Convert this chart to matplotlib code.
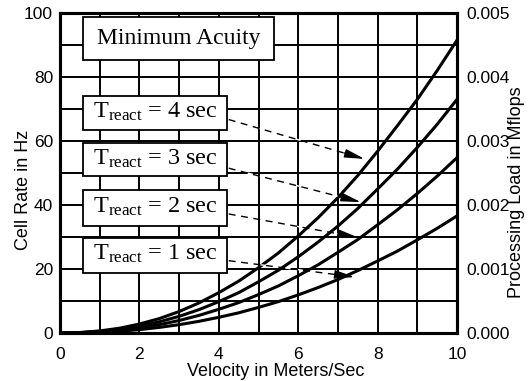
import matplotlib
matplotlib.use('Agg')
import matplotlib.pyplot as plt
from matplotlib.patches import Rectangle
from matplotlib.ticker import MultipleLocator, FormatStrFormatter

plt.rcParams['font.family'] = ['Liberation Sans', 'DejaVu Sans']
plt.rcParams['mathtext.fontset'] = 'custom'
plt.rcParams['mathtext.rm'] = 'Liberation Serif'
plt.rcParams['mathtext.it'] = 'Liberation Serif:italic'

# velocity (m/s) and cell rate (Hz), one list per reaction time
velocity = [0, 0.5, 1, 1.5, 2, 2.5, 3, 3.5, 4, 4.5, 5,
            5.5, 6, 6.5, 7, 7.5, 8, 8.5, 9, 9.5, 10]
rate_t4 = [0, 0.15, 0.65, 1.5, 2.8, 4.5, 6.7, 9.4, 12.6, 16.2, 20.4,
           25.0, 30.3, 36.0, 42.3, 49.2, 56.8, 64.8, 73.0, 82.0, 91.5]
rate_t3 = [0, 0.1, 0.5, 1.1, 2.1, 3.5, 5.2, 7.3, 9.8, 12.6, 16.0,
           19.6, 23.8, 28.4, 33.4, 38.9, 45.0, 51.2, 58.0, 65.2, 73.0]
rate_t2 = [0, 0.08, 0.38, 0.85, 1.6, 2.6, 3.9, 5.5, 7.4, 9.5, 12.0,
           14.7, 17.9, 21.3, 25.2, 29.2, 33.8, 38.5, 43.6, 49.0, 54.8]
rate_t1 = [0, 0.05, 0.25, 0.55, 1.05, 1.75, 2.6, 3.65, 4.9, 6.3, 8.0,
           9.8, 11.9, 14.2, 16.7, 19.5, 22.5, 25.6, 29.1, 32.7, 36.6]

t_react = [4, 3, 2, 1]
x_ticks = [0, 2, 4, 6, 8, 10]
y_ticks = [0, 20, 40, 60, 80, 100]
load_ticks = [0.000, 0.001, 0.002, 0.003, 0.004, 0.005]

# label boxes (x0, y0, x1, y1) and arrows (start, tip) in data units
boxes = [(0.58, 63.3, 4.2, 74.2), (0.58, 49.0, 4.2, 59.3),
         (0.58, 33.5, 4.2, 44.6), (0.58, 18.9, 4.2, 29.8)]
arrows = [((4.25, 66.7), (7.67, 54.4)), ((4.25, 51.5), (7.58, 40.9)),
          ((4.25, 37.2), (7.50, 29.9)), ((4.25, 22.6), (7.42, 17.5))]

fig = plt.figure(figsize=(5.31, 3.81), dpi=100)
ax = fig.add_axes([60 / 531, 48 / 381, 397 / 531, 320 / 381])

ax.set_xlim(0, 10)
ax.set_ylim(0, 100)
ax.set_xticks(x_ticks)
ax.set_yticks(y_ticks)
ax.xaxis.set_minor_locator(MultipleLocator(1))
ax.yaxis.set_minor_locator(MultipleLocator(10))
ax.grid(True, which='both', color='black', lw=1.4, zorder=1)
ax.set_axisbelow(True)
ax.tick_params(which='both', length=0, labelsize=12.5)
ax.tick_params(axis='x', pad=10)
ax.tick_params(axis='y', pad=5)
for s in ax.spines.values():
    s.set_linewidth(2.2)

for rate in [rate_t4, rate_t3, rate_t2, rate_t1]:
    ax.plot(velocity, rate, color='black', lw=2.2, zorder=3)

# title box
ax.add_patch(Rectangle((0.58, 85.3), 4.8, 13.3, facecolor='white',
                       edgecolor='black', lw=1.3, zorder=4))
ax.text(2.98, 91.9, 'Minimum Acuity', family='Liberation Serif', fontsize=17,
        ha='center', va='center', zorder=5)

for t, (x0, y0, x1, y1), (start, tip) in zip(t_react, boxes, arrows):
    ax.add_patch(Rectangle((x0, y0), x1 - x0, y1 - y0, facecolor='white',
                           edgecolor='black', lw=1.3, zorder=4))
    ax.text((x0 + x1) / 2, (y0 + y1) / 2 + 0.3,
            r'$\mathrm{T}_{\mathrm{react}}$ = %d sec' % t,
            family='Liberation Serif', fontsize=17.5, ha='center', va='center', zorder=5)
    fx = start[0] + 0.85 * (tip[0] - start[0])
    fy = start[1] + 0.85 * (tip[1] - start[1])
    ax.plot([start[0], fx], [start[1], fy], color='black', lw=1.0,
            linestyle=(0, (5, 4)), gapcolor='white', zorder=4)
    ax.annotate('', xy=tip, xytext=(fx, fy),
                arrowprops=dict(arrowstyle='-|>,head_length=12,head_width=2.6',
                                color='black', lw=1.0, mutation_scale=1,
                                shrinkA=0, shrinkB=0), zorder=5)

ax.set_xlabel('Velocity in Meters/Sec', fontsize=13)
ax.set_ylabel('Cell Rate in Hz', fontsize=13)
ax.xaxis.set_label_coords(0.544, -0.094)
ax.yaxis.set_label_coords(-0.071, 0.447)

ax2 = ax.twinx()
ax2.set_ylim(0, 0.005)
ax2.set_yticks(load_ticks)
ax2.yaxis.set_major_formatter(FormatStrFormatter('%.3f'))
ax2.tick_params(length=0, labelsize=12.5, pad=7)
for s in ax2.spines.values():
    s.set_linewidth(2.2)
ax2.set_ylabel('Processing Load in Mflops', fontsize=13)
ax2.yaxis.set_label_coords(1.128, 0.44)

fig.savefig('out.png', dpi=100)
